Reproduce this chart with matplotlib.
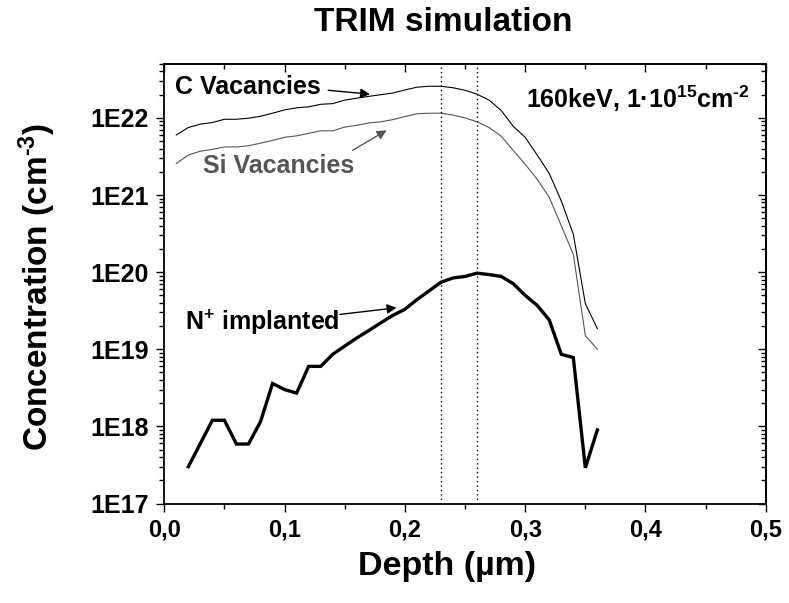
import numpy as np
import matplotlib.pyplot as plt
from matplotlib.ticker import LogLocator, MultipleLocator, NullFormatter

plt.rcParams['font.family'] = ['Liberation Sans', 'DejaVu Sans']
plt.rcParams['font.weight'] = 'bold'
plt.rcParams['mathtext.fontset'] = 'custom'
plt.rcParams['mathtext.rm'] = 'Liberation Sans:bold'
plt.rcParams['mathtext.default'] = 'rm'

# =========================
# Data
# =========================
depth_vac = [0.01, 0.02, 0.03, 0.04, 0.05, 0.06, 0.07, 0.08, 0.09, 0.10,
             0.11, 0.12, 0.13, 0.14, 0.15, 0.16, 0.17, 0.18, 0.19, 0.20,
             0.21, 0.22, 0.23, 0.24, 0.25, 0.26, 0.27, 0.28, 0.29, 0.30,
             0.31, 0.32, 0.33, 0.34, 0.35, 0.36]
c_vacancies = [6.0e21, 7.5e21, 8.3e21, 8.7e21, 9.6e21, 9.6e21, 9.9e21, 1.05e22, 1.15e22, 1.27e22,
               1.35e22, 1.39e22, 1.5e22, 1.53e22, 1.7e22, 1.8e22, 1.9e22, 2.0e22, 2.1e22, 2.3e22,
               2.5e22, 2.57e22, 2.57e22, 2.46e22, 2.28e22, 2.03e22, 1.7e22, 1.25e22, 7.8e21, 5.6e21,
               3.3e21, 1.9e21, 8.4e20, 3.1e20, 3.9e19, 1.85e19]
si_vacancies = [2.56e21, 3.3e21, 3.7e21, 3.9e21, 4.2e21, 4.2e21, 4.35e21, 4.7e21, 5.1e21, 5.6e21,
                5.85e21, 6.3e21, 6.8e21, 6.8e21, 7.6e21, 8.0e21, 8.6e21, 8.9e21, 9.5e21, 1.04e22,
                1.13e22, 1.15e22, 1.15e22, 1.09e22, 1.0e22, 8.9e21, 7.5e21, 5.8e21, 3.8e21, 2.5e21,
                1.6e21, 9.3e20, 4.0e20, 1.7e20, 1.5e19, 1.0e19]

depth_n = [0.02, 0.03, 0.04, 0.05, 0.06, 0.07, 0.08, 0.09, 0.10, 0.11,
           0.12, 0.13, 0.14, 0.15, 0.16, 0.17, 0.18, 0.19, 0.20, 0.21,
           0.22, 0.23, 0.24, 0.25, 0.26, 0.27, 0.28, 0.29, 0.30, 0.31,
           0.32, 0.33, 0.34, 0.35, 0.36]
n_implanted = [3.0e17, 6.0e17, 1.2e18, 1.2e18, 5.9e17, 5.9e17, 1.15e18, 3.6e18, 3.0e18, 2.7e18,
               6.0e18, 6.0e18, 8.6e18, 1.1e19, 1.4e19, 1.75e19, 2.2e19, 2.75e19, 3.3e19, 4.4e19,
               5.7e19, 7.4e19, 8.4e19, 8.8e19, 9.7e19, 9.3e19, 8.8e19, 7.1e19, 5.0e19, 3.7e19,
               2.4e19, 8.6e18, 7.8e18, 2.9e17, 9.0e17]

marker_depths = [0.23, 0.26]

x_ticks = [0.0, 0.1, 0.2, 0.3, 0.4, 0.5]
x_ticklabels = ['0,0', '0,1', '0,2', '0,3', '0,4', '0,5']
y_ticks = [1e17, 1e18, 1e19, 1e20, 1e21, 1e22]
y_ticklabels = ['1E17', '1E18', '1E19', '1E20', '1E21', '1E22']

SI_GREY = '#555555'

# =========================
# Figure
# =========================
fig = plt.figure(figsize=(7.89, 6.03), dpi=100)
ax = fig.add_axes([0.2082, 0.165, 0.7624, 0.7289])

ax.plot(depth_vac, c_vacancies, color='black', lw=0.8)
ax.plot(depth_vac, si_vacancies, color=SI_GREY, lw=0.8)
ax.plot(depth_n, n_implanted, color='black', lw=2.4, solid_joinstyle='miter')
for d in marker_depths:
    ax.axvline(d, color='black', lw=1.0, ls=(0, (1, 2.2)))

ax.set_yscale('log')
ax.set_xlim(0.0, 0.5)
ax.set_ylim(1e17, 5e22)

ax.set_xticks(x_ticks)
ax.set_xticklabels(x_ticklabels)
ax.xaxis.set_minor_locator(MultipleLocator(0.05))
ax.set_yticks(y_ticks)
ax.set_yticklabels(y_ticklabels)
ax.yaxis.set_minor_locator(LogLocator(base=10, subs=np.arange(2, 10)))
ax.yaxis.set_minor_formatter(NullFormatter())

ax.tick_params(which='major', direction='out', length=6, width=1.0, pad=5)
ax.tick_params(axis='x', labelsize=17)
ax.tick_params(axis='y', labelsize=18)
ax.tick_params(which='minor', direction='out', length=3.5, width=1.0)
for s in ax.spines.values():
    s.set_linewidth(1.3)

# mirrored ticks pointing inwards on top / right
top = ax.secondary_xaxis('top')
top.set_xticks(x_ticks)
top.xaxis.set_minor_locator(MultipleLocator(0.05))
top.tick_params(which='major', direction='in', length=6, width=1.0, labeltop=False)
top.tick_params(which='minor', direction='in', length=3.5, width=1.0)
right = ax.secondary_yaxis('right')
right.set_yticks(y_ticks)
right.yaxis.set_minor_locator(LogLocator(base=10, subs=np.arange(2, 10)))
right.yaxis.set_minor_formatter(NullFormatter())
right.tick_params(which='major', direction='in', length=6, width=1.0, labelright=False)
right.tick_params(which='minor', direction='in', length=3.5, width=1.0)
for sec in (top, right):
    for s in sec.spines.values():
        s.set_linewidth(1.3)

# =========================
# Labels and annotations
# =========================
fig.text(0.5615, 0.9635, 'TRIM simulation', ha='center', va='center',
         fontsize=24, fontweight='bold')
fig.text(0.5662, 0.06, 'Depth (µm)', ha='center', va='center',
         fontsize=24.5, fontweight='bold')
fig.text(0.047, 0.525, r'Concentration (cm$^{\text{-3}}$)', ha='center', va='center',
         rotation=90, fontsize=24, fontweight='bold')

ax.text(0.0089, 2.04e22, 'C Vacancies', ha='left', va='baseline',
        fontsize=18, fontweight='bold', color='black')
ax.annotate('', xy=(0.171, 2.03e22), xytext=(0.1363, 2.28e22),
            arrowprops=dict(arrowstyle='-|>', color='black', lw=1.0,
                            mutation_scale=14, shrinkA=0, shrinkB=0))

ax.text(0.0319, 1.95e21, 'Si Vacancies', ha='left', va='baseline',
        fontsize=18, fontweight='bold', color=SI_GREY)
ax.annotate('', xy=(0.1848, 6.9e21), xytext=(0.1566, 3.8e21),
            arrowprops=dict(arrowstyle='-|>', color=SI_GREY, lw=1.0,
                            mutation_scale=14, shrinkA=0, shrinkB=0))

ax.text(0.0172, 1.76e19, 'N$^{+}$ implanted', ha='left', va='baseline',
        fontsize=18, fontweight='bold', color='black')
ax.annotate('', xy=(0.1931, 3.45e19), xytext=(0.146, 2.83e19),
            arrowprops=dict(arrowstyle='-|>', color='black', lw=1.0,
                            mutation_scale=14, shrinkA=0, shrinkB=0))

ax.text(0.4868, 1.36e22, r'160keV, 1·10$^{15}$cm$^{\text{-2}}$', ha='right', va='baseline',
        fontsize=18, fontweight='bold', color='black')

fig.savefig('out.png', dpi=100)
